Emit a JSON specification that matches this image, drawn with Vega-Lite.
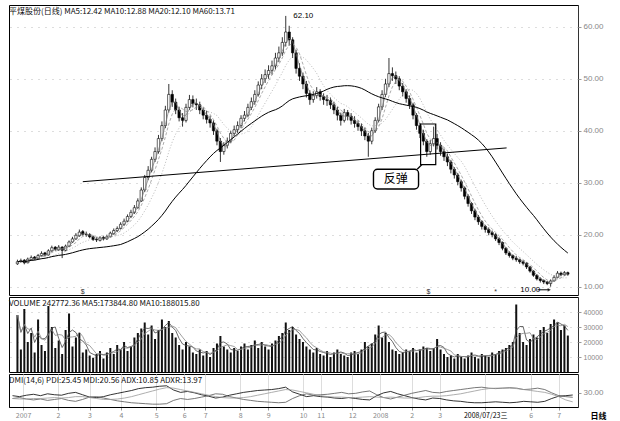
{
"$schema":"https://vega.github.io/schema/vega-lite/v6.json",
"background":"white",
"padding":{"left":8,"top":4,"right":2,"bottom":2},
"spacing":0,
"config":{
 "view":{"stroke":"#000","strokeWidth":1},
 "font":"Liberation Sans",
 "axis":{"labelFont":"Liberation Sans","labelFontSize":8,"labelColor":"#888","tickColor":"#999","domainColor":"#666","domainDash":[1,1],"title":null,"labelOverlap":false},
 "title":{"font":"Noto Sans CJK SC","fontSize":8,"fontWeight":"normal","anchor":"start","color":"#111"}
},
"datasets":{
"k":[
{"d":0,"o":14.4,"h":15.2,"l":14.2,"c":14.8,"v":380},
{"d":1,"o":14.9,"h":15.4,"l":14.6,"c":15.0,"v":150},
{"d":2,"o":15.1,"h":15.3,"l":14.3,"c":14.6,"v":420},
{"d":3,"o":14.6,"h":15.6,"l":14.5,"c":15.3,"v":200},
{"d":4,"o":15.2,"h":16.0,"l":15.0,"c":15.6,"v":260},
{"d":5,"o":15.7,"h":15.9,"l":15.1,"c":15.4,"v":130},
{"d":6,"o":15.4,"h":16.3,"l":15.3,"c":16.0,"v":350},
{"d":7,"o":16.0,"h":16.8,"l":15.8,"c":16.4,"v":180},
{"d":8,"o":16.5,"h":16.7,"l":15.8,"c":16.1,"v":140},
{"d":9,"o":16.1,"h":17.2,"l":16.0,"c":16.9,"v":440},
{"d":10,"o":16.9,"h":17.9,"l":16.7,"c":17.5,"v":300},
{"d":11,"o":17.6,"h":17.8,"l":16.9,"c":17.2,"v":160},
{"d":12,"o":17.1,"h":18.0,"l":16.9,"c":17.6,"v":210},
{"d":13,"o":17.6,"h":17.8,"l":15.5,"c":17.0,"v":120},
{"d":14,"o":17.0,"h":18.1,"l":16.8,"c":17.8,"v":280},
{"d":15,"o":17.8,"h":18.9,"l":17.6,"c":18.6,"v":390},
{"d":16,"o":18.6,"h":19.6,"l":18.4,"c":19.2,"v":170},
{"d":17,"o":19.2,"h":20.3,"l":19.0,"c":19.9,"v":230},
{"d":18,"o":19.8,"h":21.0,"l":19.6,"c":20.5,"v":260},
{"d":19,"o":20.6,"h":20.9,"l":19.8,"c":20.1,"v":130},
{"d":20,"o":20.1,"h":20.6,"l":19.6,"c":20.0,"v":150},
{"d":21,"o":20.0,"h":20.3,"l":19.3,"c":19.6,"v":110},
{"d":22,"o":19.6,"h":19.8,"l":18.8,"c":19.1,"v":95},
{"d":23,"o":19.1,"h":19.5,"l":18.6,"c":19.0,"v":120},
{"d":24,"o":18.9,"h":19.7,"l":18.7,"c":19.4,"v":140},
{"d":25,"o":19.5,"h":19.8,"l":18.9,"c":19.2,"v":90},
{"d":26,"o":19.2,"h":20.0,"l":19.0,"c":19.6,"v":130},
{"d":27,"o":19.6,"h":20.6,"l":19.5,"c":20.3,"v":160},
{"d":28,"o":20.2,"h":21.2,"l":20.0,"c":20.8,"v":120},
{"d":29,"o":20.8,"h":21.6,"l":20.5,"c":21.2,"v":180},
{"d":30,"o":21.2,"h":22.4,"l":21.0,"c":22.0,"v":150},
{"d":31,"o":22.0,"h":23.1,"l":21.7,"c":22.6,"v":200},
{"d":32,"o":22.6,"h":23.9,"l":22.4,"c":23.5,"v":140},
{"d":33,"o":23.5,"h":24.8,"l":23.2,"c":24.3,"v":170},
{"d":34,"o":24.3,"h":25.7,"l":24.0,"c":25.2,"v":230},
{"d":35,"o":25.2,"h":27.0,"l":25.0,"c":26.5,"v":260},
{"d":36,"o":26.5,"h":29.1,"l":26.3,"c":28.6,"v":290},
{"d":37,"o":28.6,"h":31.5,"l":28.2,"c":31.0,"v":330},
{"d":38,"o":31.0,"h":33.2,"l":30.5,"c":32.4,"v":250},
{"d":39,"o":32.4,"h":35.0,"l":32.0,"c":34.5,"v":310},
{"d":40,"o":34.5,"h":36.8,"l":34.0,"c":36.0,"v":220},
{"d":41,"o":36.0,"h":39.2,"l":35.6,"c":38.5,"v":280},
{"d":42,"o":38.5,"h":41.8,"l":38.0,"c":41.0,"v":350},
{"d":43,"o":41.0,"h":44.8,"l":40.5,"c":44.0,"v":300},
{"d":44,"o":44.0,"h":49.0,"l":43.5,"c":47.0,"v":340},
{"d":45,"o":47.0,"h":47.8,"l":44.6,"c":45.5,"v":260},
{"d":46,"o":45.5,"h":46.2,"l":43.2,"c":44.0,"v":230},
{"d":47,"o":44.0,"h":44.6,"l":41.8,"c":42.5,"v":180},
{"d":48,"o":42.5,"h":43.4,"l":40.8,"c":42.0,"v":150},
{"d":49,"o":42.0,"h":45.2,"l":41.6,"c":44.5,"v":200},
{"d":50,"o":44.5,"h":46.9,"l":44.0,"c":46.0,"v":170},
{"d":51,"o":46.0,"h":46.8,"l":44.5,"c":45.2,"v":130},
{"d":52,"o":45.2,"h":46.2,"l":44.0,"c":45.0,"v":120},
{"d":53,"o":45.0,"h":45.6,"l":43.2,"c":44.0,"v":150},
{"d":54,"o":44.0,"h":44.5,"l":42.2,"c":43.0,"v":110},
{"d":55,"o":43.0,"h":43.8,"l":41.4,"c":42.2,"v":140},
{"d":56,"o":42.2,"h":42.9,"l":40.6,"c":41.5,"v":100},
{"d":57,"o":41.5,"h":42.0,"l":39.2,"c":40.0,"v":160},
{"d":58,"o":40.0,"h":40.4,"l":37.2,"c":38.0,"v":190},
{"d":59,"o":38.0,"h":38.6,"l":34.0,"c":36.0,"v":240},
{"d":60,"o":36.0,"h":37.8,"l":35.4,"c":37.2,"v":170},
{"d":61,"o":37.2,"h":38.7,"l":36.6,"c":38.0,"v":150},
{"d":62,"o":38.0,"h":40.0,"l":37.6,"c":39.5,"v":130},
{"d":63,"o":39.5,"h":41.0,"l":39.0,"c":40.2,"v":160},
{"d":64,"o":40.2,"h":41.8,"l":39.6,"c":41.0,"v":140},
{"d":65,"o":41.0,"h":43.0,"l":40.5,"c":42.4,"v":170},
{"d":66,"o":42.4,"h":43.8,"l":41.8,"c":43.0,"v":190},
{"d":67,"o":43.0,"h":45.2,"l":42.6,"c":44.5,"v":150},
{"d":68,"o":44.5,"h":46.4,"l":44.0,"c":45.6,"v":180},
{"d":69,"o":45.6,"h":47.8,"l":45.0,"c":47.0,"v":210},
{"d":70,"o":47.0,"h":49.5,"l":46.6,"c":48.8,"v":160},
{"d":71,"o":48.8,"h":50.9,"l":48.0,"c":50.0,"v":200},
{"d":72,"o":50.0,"h":51.8,"l":49.2,"c":50.8,"v":170},
{"d":73,"o":50.8,"h":52.6,"l":50.0,"c":51.6,"v":150},
{"d":74,"o":51.6,"h":53.5,"l":50.8,"c":52.5,"v":190},
{"d":75,"o":52.5,"h":55.0,"l":51.8,"c":54.0,"v":210},
{"d":76,"o":54.0,"h":56.2,"l":53.2,"c":55.0,"v":240},
{"d":77,"o":55.0,"h":58.0,"l":54.4,"c":57.0,"v":260},
{"d":78,"o":57.0,"h":62.1,"l":56.2,"c":59.0,"v":330},
{"d":79,"o":59.0,"h":60.2,"l":56.4,"c":57.5,"v":280},
{"d":80,"o":57.5,"h":58.0,"l":54.0,"c":55.0,"v":300},
{"d":81,"o":55.0,"h":55.6,"l":51.0,"c":52.0,"v":250},
{"d":82,"o":52.0,"h":53.0,"l":49.6,"c":50.5,"v":220},
{"d":83,"o":50.5,"h":51.2,"l":48.0,"c":49.0,"v":200},
{"d":84,"o":49.0,"h":49.6,"l":46.4,"c":47.2,"v":170},
{"d":85,"o":47.2,"h":47.8,"l":45.0,"c":46.0,"v":150},
{"d":86,"o":46.0,"h":47.6,"l":45.4,"c":46.8,"v":130},
{"d":87,"o":46.8,"h":48.4,"l":46.2,"c":47.5,"v":160},
{"d":88,"o":47.5,"h":48.0,"l":45.8,"c":46.6,"v":120},
{"d":89,"o":46.6,"h":47.2,"l":45.0,"c":46.0,"v":110},
{"d":90,"o":46.0,"h":46.9,"l":44.8,"c":45.8,"v":140},
{"d":91,"o":45.8,"h":46.4,"l":44.2,"c":45.0,"v":100},
{"d":92,"o":45.0,"h":45.6,"l":43.2,"c":44.0,"v":130},
{"d":93,"o":44.0,"h":44.6,"l":42.0,"c":43.0,"v":150},
{"d":94,"o":43.0,"h":43.5,"l":41.0,"c":42.0,"v":120},
{"d":95,"o":42.0,"h":44.2,"l":41.6,"c":43.5,"v":110},
{"d":96,"o":43.5,"h":44.0,"l":42.0,"c":42.8,"v":100},
{"d":97,"o":42.8,"h":43.4,"l":41.2,"c":42.0,"v":130},
{"d":98,"o":42.0,"h":42.8,"l":40.6,"c":41.4,"v":140},
{"d":99,"o":41.4,"h":42.0,"l":40.0,"c":40.8,"v":120},
{"d":100,"o":40.8,"h":41.4,"l":39.0,"c":40.0,"v":150},
{"d":101,"o":40.0,"h":40.6,"l":38.2,"c":39.0,"v":200},
{"d":102,"o":39.0,"h":39.6,"l":35.0,"c":38.0,"v":170},
{"d":103,"o":38.0,"h":40.6,"l":37.4,"c":40.0,"v":190},
{"d":104,"o":40.0,"h":42.6,"l":39.6,"c":42.0,"v":250},
{"d":105,"o":42.0,"h":45.2,"l":41.6,"c":44.6,"v":310},
{"d":106,"o":44.6,"h":47.8,"l":44.0,"c":47.0,"v":230},
{"d":107,"o":47.0,"h":50.0,"l":46.5,"c":49.0,"v":260},
{"d":108,"o":49.0,"h":54.0,"l":48.4,"c":51.0,"v":200},
{"d":109,"o":51.0,"h":52.2,"l":49.6,"c":50.6,"v":150},
{"d":110,"o":50.6,"h":51.4,"l":49.0,"c":50.0,"v":140},
{"d":111,"o":50.0,"h":50.5,"l":47.8,"c":48.6,"v":120},
{"d":112,"o":48.6,"h":49.2,"l":46.6,"c":47.5,"v":130},
{"d":113,"o":47.5,"h":48.0,"l":45.4,"c":46.2,"v":150},
{"d":114,"o":46.2,"h":46.8,"l":44.2,"c":45.0,"v":140},
{"d":115,"o":45.0,"h":45.4,"l":42.2,"c":43.0,"v":160},
{"d":116,"o":43.0,"h":43.4,"l":40.2,"c":41.0,"v":130},
{"d":117,"o":41.0,"h":41.5,"l":38.6,"c":39.5,"v":150},
{"d":118,"o":39.5,"h":40.2,"l":37.2,"c":38.0,"v":170},
{"d":119,"o":38.0,"h":38.4,"l":35.0,"c":36.0,"v":160},
{"d":120,"o":36.0,"h":38.2,"l":35.4,"c":37.5,"v":140},
{"d":121,"o":37.5,"h":40.8,"l":37.0,"c":38.5,"v":160},
{"d":122,"o":38.5,"h":39.4,"l":36.4,"c":37.2,"v":220},
{"d":123,"o":37.2,"h":37.8,"l":35.2,"c":36.0,"v":150},
{"d":124,"o":36.0,"h":36.6,"l":34.2,"c":35.0,"v":120},
{"d":125,"o":35.0,"h":35.6,"l":33.2,"c":34.0,"v":100},
{"d":126,"o":34.0,"h":34.4,"l":31.8,"c":32.6,"v":110},
{"d":127,"o":32.6,"h":33.0,"l":30.8,"c":31.5,"v":90},
{"d":128,"o":31.5,"h":31.9,"l":29.5,"c":30.2,"v":120},
{"d":129,"o":30.2,"h":30.6,"l":28.3,"c":29.0,"v":100},
{"d":130,"o":29.0,"h":29.3,"l":26.8,"c":27.4,"v":90},
{"d":131,"o":27.4,"h":27.8,"l":25.4,"c":26.0,"v":110},
{"d":132,"o":26.0,"h":26.3,"l":24.0,"c":24.6,"v":130},
{"d":133,"o":24.6,"h":25.0,"l":22.8,"c":23.4,"v":100},
{"d":134,"o":23.4,"h":23.8,"l":21.9,"c":22.5,"v":90},
{"d":135,"o":22.5,"h":22.8,"l":21.0,"c":21.6,"v":120},
{"d":136,"o":21.6,"h":21.9,"l":20.4,"c":21.0,"v":110},
{"d":137,"o":21.0,"h":21.4,"l":19.9,"c":20.4,"v":100},
{"d":138,"o":20.4,"h":20.8,"l":19.5,"c":20.0,"v":130},
{"d":139,"o":20.0,"h":20.3,"l":18.8,"c":19.2,"v":120},
{"d":140,"o":19.2,"h":19.5,"l":18.0,"c":18.5,"v":140},
{"d":141,"o":18.5,"h":18.7,"l":17.0,"c":17.4,"v":150},
{"d":142,"o":17.4,"h":17.6,"l":16.1,"c":16.5,"v":160},
{"d":143,"o":16.5,"h":16.8,"l":15.6,"c":16.0,"v":180},
{"d":144,"o":16.0,"h":16.2,"l":15.1,"c":15.5,"v":200},
{"d":145,"o":15.5,"h":15.9,"l":14.8,"c":15.2,"v":450},
{"d":146,"o":15.2,"h":15.4,"l":14.4,"c":14.8,"v":260},
{"d":147,"o":14.8,"h":15.1,"l":14.1,"c":14.5,"v":200},
{"d":148,"o":14.5,"h":14.7,"l":13.4,"c":13.8,"v":180},
{"d":149,"o":13.8,"h":14.0,"l":12.7,"c":13.0,"v":220},
{"d":150,"o":13.0,"h":13.2,"l":11.9,"c":12.2,"v":250},
{"d":151,"o":12.2,"h":12.4,"l":11.2,"c":11.5,"v":230},
{"d":152,"o":11.5,"h":11.8,"l":10.8,"c":11.2,"v":280},
{"d":153,"o":11.2,"h":11.4,"l":10.5,"c":10.9,"v":300},
{"d":154,"o":10.9,"h":11.1,"l":10.3,"c":10.6,"v":260},
{"d":155,"o":10.6,"h":11.4,"l":10.0,"c":11.1,"v":320},
{"d":156,"o":11.1,"h":12.2,"l":11.0,"c":11.8,"v":350},
{"d":157,"o":11.8,"h":13.0,"l":11.6,"c":12.6,"v":330},
{"d":158,"o":12.6,"h":12.9,"l":12.0,"c":12.3,"v":280},
{"d":159,"o":12.3,"h":13.0,"l":12.1,"c":12.7,"v":310},
{"d":160,"o":12.7,"h":12.9,"l":12.1,"c":12.4,"v":243}
],
"dmi":[
{"d":0,"p":24,"m":18,"a":18},{"d":2,"p":22,"m":20,"a":17},{"d":4,"p":25,"m":17,"a":17},{"d":6,"p":27,"m":15,"a":18},
{"d":8,"p":24,"m":17,"a":18},{"d":10,"p":28,"m":14,"a":19},{"d":12,"p":26,"m":16,"a":20},{"d":14,"p":25,"m":18,"a":19},
{"d":16,"p":29,"m":14,"a":20},{"d":18,"p":31,"m":12,"a":22},{"d":20,"p":26,"m":16,"a":22},{"d":22,"p":21,"m":21,"a":20},
{"d":24,"p":20,"m":22,"a":18},{"d":26,"p":22,"m":19,"a":16},{"d":28,"p":26,"m":16,"a":16},{"d":30,"p":29,"m":13,"a":17},
{"d":32,"p":32,"m":11,"a":19},{"d":34,"p":35,"m":9,"a":22},{"d":36,"p":39,"m":8,"a":26},{"d":38,"p":41,"m":7,"a":30},
{"d":40,"p":42,"m":6,"a":34},{"d":42,"p":44,"m":6,"a":38},{"d":44,"p":45,"m":7,"a":41},{"d":46,"p":36,"m":14,"a":40},
{"d":48,"p":31,"m":18,"a":37},{"d":50,"p":33,"m":16,"a":34},{"d":52,"p":30,"m":18,"a":31},{"d":54,"p":26,"m":21,"a":28},
{"d":56,"p":23,"m":24,"a":25},{"d":58,"p":19,"m":28,"a":22},{"d":60,"p":21,"m":27,"a":20},{"d":62,"p":25,"m":22,"a":19},
{"d":64,"p":28,"m":19,"a":19},{"d":66,"p":31,"m":16,"a":20},{"d":68,"p":33,"m":14,"a":22},{"d":70,"p":35,"m":12,"a":25},
{"d":72,"p":36,"m":11,"a":28},{"d":74,"p":37,"m":10,"a":31},{"d":76,"p":39,"m":9,"a":34},{"d":78,"p":42,"m":10,"a":37},
{"d":80,"p":32,"m":18,"a":36},{"d":82,"p":27,"m":24,"a":33},{"d":84,"p":22,"m":28,"a":30},{"d":86,"p":24,"m":25,"a":27},
{"d":88,"p":22,"m":26,"a":24},{"d":90,"p":21,"m":27,"a":22},{"d":92,"p":19,"m":29,"a":21},{"d":94,"p":18,"m":31,"a":21},
{"d":96,"p":20,"m":28,"a":20},{"d":98,"p":18,"m":29,"a":20},{"d":100,"p":16,"m":32,"a":21},{"d":102,"p":15,"m":34,"a":22},
{"d":104,"p":24,"m":26,"a":21},{"d":106,"p":30,"m":20,"a":20},{"d":108,"p":33,"m":17,"a":21},{"d":110,"p":28,"m":21,"a":20},
{"d":112,"p":24,"m":25,"a":19},{"d":114,"p":20,"m":29,"a":19},{"d":116,"p":17,"m":32,"a":20},{"d":118,"p":15,"m":35,"a":22},
{"d":120,"p":19,"m":31,"a":23},{"d":122,"p":18,"m":30,"a":23},{"d":124,"p":15,"m":33,"a":24},{"d":126,"p":13,"m":35,"a":26},
{"d":128,"p":12,"m":37,"a":28},{"d":130,"p":10,"m":39,"a":31},{"d":132,"p":9,"m":41,"a":34},{"d":134,"p":9,"m":42,"a":37},
{"d":136,"p":10,"m":40,"a":39},{"d":138,"p":11,"m":39,"a":40},{"d":140,"p":10,"m":40,"a":40},{"d":142,"p":9,"m":41,"a":40},
{"d":144,"p":10,"m":40,"a":39},{"d":146,"p":12,"m":37,"a":37},{"d":148,"p":11,"m":38,"a":35},{"d":150,"p":10,"m":40,"a":33},
{"d":152,"p":12,"m":37,"a":31},{"d":154,"p":18,"m":30,"a":27},{"d":156,"p":23,"m":24,"a":22},{"d":158,"p":24,"m":22,"a":15},
{"d":160,"p":25.45,"m":20.56,"a":10.85}
],
"neck":[{"d":19,"p":30.2},{"d":142.2,"p":36.7}],
"box":[{"d":117.2,"d2":121.6,"p":33.5,"p2":41.3}],
"call":[{"d":103.5,"d2":116.6,"p":28.8,"p2":32.6,"t":"反弹"}],
"link":[{"d":116.2,"d2":117.6,"p":32.6,"p2":33.5}],
"notes":[{"d":79.6,"p":62.1,"t":"62.10"},{"d":145.6,"p":9.4,"t":"10.00"}],
"marks":[{"d":19,"t":"$"},{"d":119.5,"t":"$"},{"d":139,"t":"*"}],
"arrow":[{"d":151.2,"d2":154.6,"p":9.4}]
},
"vconcat":[
{
 "width":569,"height":290,
 "title":{"text":"平煤股份(日线) MA5:12.42 MA10:12.88 MA20:12.10 MA60:13.71","offset":-11},
 "data":{"name":"k"},
 "encoding":{"x":{"field":"d","type":"quantitative","scale":{"domain":[-1,161.5],"nice":false,"zero":false},"axis":null}},
 "layer":[
  {"mark":{"type":"rule","color":"#000","strokeWidth":0.8},
   "encoding":{"y":{"field":"l","type":"quantitative","scale":{"domain":[8.4,64.2],"nice":false,"zero":false},
     "axis":{"orient":"right","values":[10,15,20,25,30,35,40,45,50,55,60],"format":".2f","grid":true,"gridDash":[1,6],"gridColor":"#bbb","tickSize":3,"title":null}},
    "y2":{"field":"h"}}},
  {"mark":{"type":"bar","width":2.4,"stroke":"#000","strokeWidth":0.6},
   "encoding":{"y":{"field":"o","type":"quantitative","scale":{"domain":[8.4,64.2],"nice":false,"zero":false}},"y2":{"field":"c"},
    "fill":{"condition":{"test":"datum.c>=datum.o","value":"#fff"},"value":"#000"}}},
  {"transform":[
    {"window":[{"op":"mean","field":"c","as":"m5"}],"frame":[-2,0],"sort":[{"field":"d"}]},
    {"window":[{"op":"mean","field":"c","as":"m10"}],"frame":[-4,0],"sort":[{"field":"d"}]},
    {"window":[{"op":"mean","field":"c","as":"m20"}],"frame":[-9,0],"sort":[{"field":"d"}]},
    {"window":[{"op":"mean","field":"c","as":"m60"}],"frame":[-30,0],"sort":[{"field":"d"}]}],
   "layer":[
    {"mark":{"type":"line","color":"#777","strokeWidth":0.7},"encoding":{"y":{"field":"m5","type":"quantitative","scale":{"domain":[8.4,64.2],"nice":false,"zero":false}}}},
    {"mark":{"type":"line","color":"#888","strokeWidth":0.7,"strokeDash":[3,2]},"encoding":{"y":{"field":"m10","type":"quantitative","scale":{"domain":[8.4,64.2],"nice":false,"zero":false}}}},
    {"mark":{"type":"line","color":"#999","strokeWidth":0.7,"strokeDash":[1,2]},"encoding":{"y":{"field":"m20","type":"quantitative","scale":{"domain":[8.4,64.2],"nice":false,"zero":false}}}},
    {"mark":{"type":"line","color":"#000","strokeWidth":1},"encoding":{"y":{"field":"m60","type":"quantitative","scale":{"domain":[8.4,64.2],"nice":false,"zero":false}}}}
   ]},
  {"data":{"name":"neck"},"mark":{"type":"line","color":"#000","strokeWidth":1},
   "encoding":{"y":{"field":"p","type":"quantitative","scale":{"domain":[8.4,64.2],"nice":false,"zero":false}}}},
  {"data":{"name":"box"},"mark":{"type":"rect","fill":null,"stroke":"#000","strokeWidth":1.2},
   "encoding":{"x2":{"field":"d2"},"y":{"field":"p","type":"quantitative","scale":{"domain":[8.4,64.2],"nice":false,"zero":false}},"y2":{"field":"p2"}}},
  {"data":{"name":"link"},"mark":{"type":"rule","color":"#000","strokeWidth":1.2},
   "encoding":{"x2":{"field":"d2"},"y":{"field":"p","type":"quantitative","scale":{"domain":[8.4,64.2],"nice":false,"zero":false}},"y2":{"field":"p2"}}},
  {"data":{"name":"call"},"mark":{"type":"rect","fill":"#fff","stroke":"#000","strokeWidth":1.4,"cornerRadius":4},
   "encoding":{"x2":{"field":"d2"},"y":{"field":"p","type":"quantitative","scale":{"domain":[8.4,64.2],"nice":false,"zero":false}},"y2":{"field":"p2"}}},
  {"data":{"name":"call"},"mark":{"type":"text","font":"Noto Sans CJK SC","fontSize":12,"color":"#000"},
   "encoding":{"x":{"datum":110},"y":{"datum":30.7},"text":{"field":"t"}}},
  {"data":{"name":"notes"},"mark":{"type":"text","font":"Liberation Sans","fontSize":8,"align":"left","dx":2,"color":"#000"},
   "encoding":{"y":{"field":"p","type":"quantitative","scale":{"domain":[8.4,64.2],"nice":false,"zero":false}},"text":{"field":"t"}}},
  {"data":{"name":"arrow"},"mark":{"type":"rule","color":"#000","strokeWidth":1},
   "encoding":{"x2":{"field":"d2"},"y":{"field":"p","type":"quantitative","scale":{"domain":[8.4,64.2],"nice":false,"zero":false}}}},
  {"data":{"name":"arrow"},"mark":{"type":"point","shape":"triangle-right","size":14,"filled":true,"color":"#000"},
   "encoding":{"x":{"field":"d2","type":"quantitative"},"y":{"field":"p","type":"quantitative","scale":{"domain":[8.4,64.2],"nice":false,"zero":false}}}},
  {"data":{"name":"marks"},"mark":{"type":"text","fontSize":7,"color":"#333"},
   "encoding":{"y":{"datum":9.0},"text":{"field":"t"}}}
 ]
},
{
 "width":569,"height":75,
 "title":{"text":"VOLUME 242772.36 MA5:173844.80 MA10:188015.80","offset":-11},
 "data":{"name":"k"},
 "transform":[
    {"window":[{"op":"mean","field":"v","as":"mv5"}],"frame":[-2,0],"sort":[{"field":"d"}]},
    {"window":[{"op":"mean","field":"v","as":"mv10"}],"frame":[-4,0],"sort":[{"field":"d"}]}],
 "encoding":{"x":{"field":"d","type":"quantitative","scale":{"domain":[-1,161.5],"nice":false,"zero":false},"axis":null},
   "y":{"field":"v","type":"quantitative","scale":{"domain":[0,500],"nice":false},
     "axis":{"orient":"right","values":[100,200,300,400],"labelExpr":"format(datum.value*100,'d')","labelOverlap":false,"labelFontSize":7,"grid":true,"gridDash":[1,6],"gridColor":"#bbb","tickSize":3,"title":null}}},
 "layer":[
  {"mark":{"type":"bar","width":2,"color":"#111"}},
  {"mark":{"type":"line","color":"#444","strokeWidth":0.8},"encoding":{"y":{"field":"mv5","type":"quantitative"}}},
  {"mark":{"type":"line","color":"#888","strokeWidth":0.8},"encoding":{"y":{"field":"mv10","type":"quantitative"}}}
 ]
},
{
 "width":569,"height":33,
 "title":{"text":"DMI(14,6) PDI:25.45 MDI:20.56 ADX:10.85 ADXR:13.97","offset":-11},
 "data":{"name":"dmi"},
 "encoding":{"x":{"field":"d","type":"quantitative","scale":{"domain":[-1,161.5],"nice":false,"zero":false},
   "axis":{"orient":"bottom","values":[3,13,22,31,41,49,55,65,73,83,88,97,105,114,122,135,148,156],
    "labelExpr":"datum.value==135?'2008/07/23三':['2007','2','3','4','5','6','7','8','9','10','11','12','2008','2','3','','6','7'][indexof([3,13,22,31,41,49,55,65,73,83,88,97,105,114,122,135,148,156],datum.value)]",
    "labelOverlap":false,"labelFlush":false,"tickSize":3,"labelFontSize":7,"labelPadding":1,"domainDash":[],"domainColor":"#000",
    "labelFont":"Noto Sans CJK SC",
    "labelColor":{"condition":{"test":"datum.value==135","value":"#000"},"value":"#888"},
    "title":"日线","titleX":589,"titleY":9,"titleFontSize":8,"titleFont":"Noto Sans CJK SC","titleFontWeight":"bold","titleAlign":"center","titleBaseline":"middle"}}},
 "layer":[
  {"mark":{"type":"line","color":"#000","strokeWidth":0.8},
   "encoding":{"y":{"field":"p","type":"quantitative","scale":{"domain":[0,70],"nice":false},
     "axis":{"orient":"right","values":[30],"format":".2f","grid":false,"tickSize":3,"title":null}}}},
  {"mark":{"type":"line","color":"#555","strokeWidth":0.8},"encoding":{"y":{"field":"m","type":"quantitative","scale":{"domain":[0,70],"nice":false}}}},
  {"mark":{"type":"line","color":"#999","strokeWidth":0.8},"encoding":{"y":{"field":"a","type":"quantitative","scale":{"domain":[0,70],"nice":false}}}}
 ]
}
]
}
